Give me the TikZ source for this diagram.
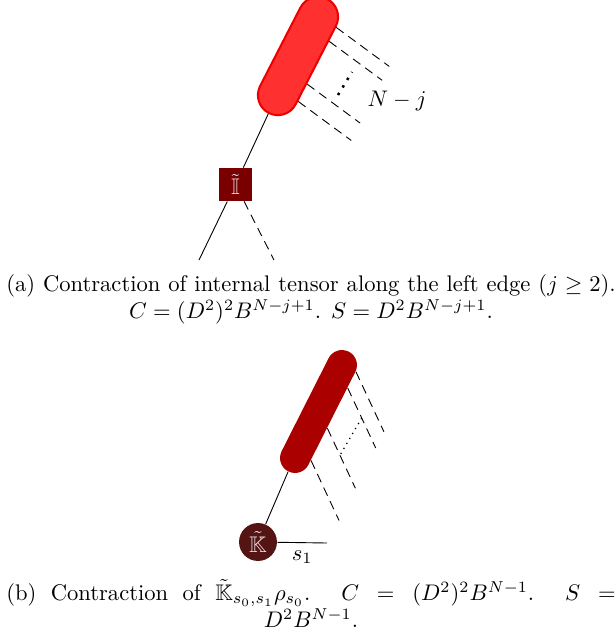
\documentclass[tikz,border=0pt]{standalone}
\usepackage{amsmath,amssymb}
\usetikzlibrary{calc}
\definecolor{capafill}{RGB}{255,48,48}
\definecolor{capadraw}{RGB}{238,0,0}
\definecolor{boxfill}{RGB}{122,0,0}
\definecolor{capbfill}{RGB}{170,0,0}
\definecolor{circfill}{RGB}{85,20,20}
\definecolor{symtext}{RGB}{235,225,225}
\newcommand{\capsetup}{\leftskip=0pt plus 1fil\rightskip=0pt plus -1fil\parfillskip=0pt plus 2fil\parindent=0pt}
\newcommand{\captext}[1]{\parbox[t]{270pt}{\capsetup #1\par}}
\begin{document}
\begin{tikzpicture}[x=0.443pt,y=-0.443pt,
  capa/.style={rectangle, inner sep=0pt, fill=capafill, draw=capadraw, line width=0.9pt,
    minimum width=56.7pt, minimum height=17.7pt, rounded corners=8.85pt, rotate=62.8},
  capb/.style={rectangle, inner sep=0pt, fill=capbfill, draw=none,
    minimum width=59.4pt, minimum height=13.3pt, rounded corners=6.65pt, rotate=63.2},
  boxI/.style={rectangle, inner sep=0pt, fill=boxfill, minimum size=14.6pt, text=symtext},
  circK/.style={circle, inner sep=0pt, fill=circfill, minimum size=16.8pt, text=symtext},
  leg/.style={dash pattern=on 4pt off 2.6pt},
  bigdots/.style={line width=1.1pt, dash pattern=on 1.1pt off 2.8pt},
  smalldots/.style={dotted, line width=0.55pt},
  capt/.style={anchor=north, inner sep=0pt}
]
\useasboundingbox (0,0) rectangle (616,633);

% ---------- (a) ----------
\node[capa] (A) at (298,56) {};
\node[boxI] (I) at (235.5,184.5) {$\tilde{\mathbb{I}}$};
\draw (A.west) -- (I);
\coordinate (iL) at (199,260);
\coordinate (iR) at (274,260);
\draw (I) -- (iL);
\draw[leg] (I) -- (iR);
\coordinate (a1) at ($(A.south west)!0.83!(A.south east)$);
\coordinate (a2) at ($(A.south west)!0.71!(A.south east)$);
\coordinate (a3) at ($(A.south west)!0.34!(A.south east)$);
\coordinate (a4) at ($(A.south west)!0.19!(A.south east)$);
\foreach \p in {a1,a2,a3,a4} { \draw[leg] (\p) -- ++(53,39); }
\coordinate (dA1) at (338,95);
\coordinate (dA2) at (352,72);
\draw[bigdots] (dA1) -- (dA2);
\node (NJ) at (397,101) {$N-j$};

\node[capt] (ca) at (311,274) {\captext{(a) Contraction of internal tensor along the left edge ($j \geq 2$). $C=(D^2)^2B^{N-j+1}$. $S=D^2B^{N-j+1}$.}};

% ---------- (b) ----------
\node[capb] (B) at (318.5,411.5) {};
\node[circK] (K) at (258,542) {$\tilde{\mathbb{K}}$};
\draw (B.west) -- (K);
\coordinate (s1e) at (327,543);
\draw (K) -- (s1e) node[midway, below] (s1) {$s_1$};
\coordinate (b1) at ($(B.south west)!0.888!(B.south east)$);
\coordinate (b2) at ($(B.south west)!0.753!(B.south east)$);
\coordinate (b3) at ($(B.south west)!0.419!(B.south east)$);
\coordinate (b4) at ($(B.south west)!0.151!(B.south east)$);
\foreach \p in {b1,b2,b3,b4} { \draw[leg] (\p) -- ++(28,60) coordinate (\p e); }
\draw[smalldots] ($(b2)!0.5!(b2e)$) -- ($(b3)!0.45!(b3e)$);

\node[capt] (cb) at (311,579) {\captext{(b) Contraction of $\tilde{\mathbb{K}}_{s_0,s_1}\rho_{s_0}$. $C = (D^2)^2B^{N-1}$. $S =$\linebreak $D^2B^{N-1}$.}};
\end{tikzpicture}
\end{document}
